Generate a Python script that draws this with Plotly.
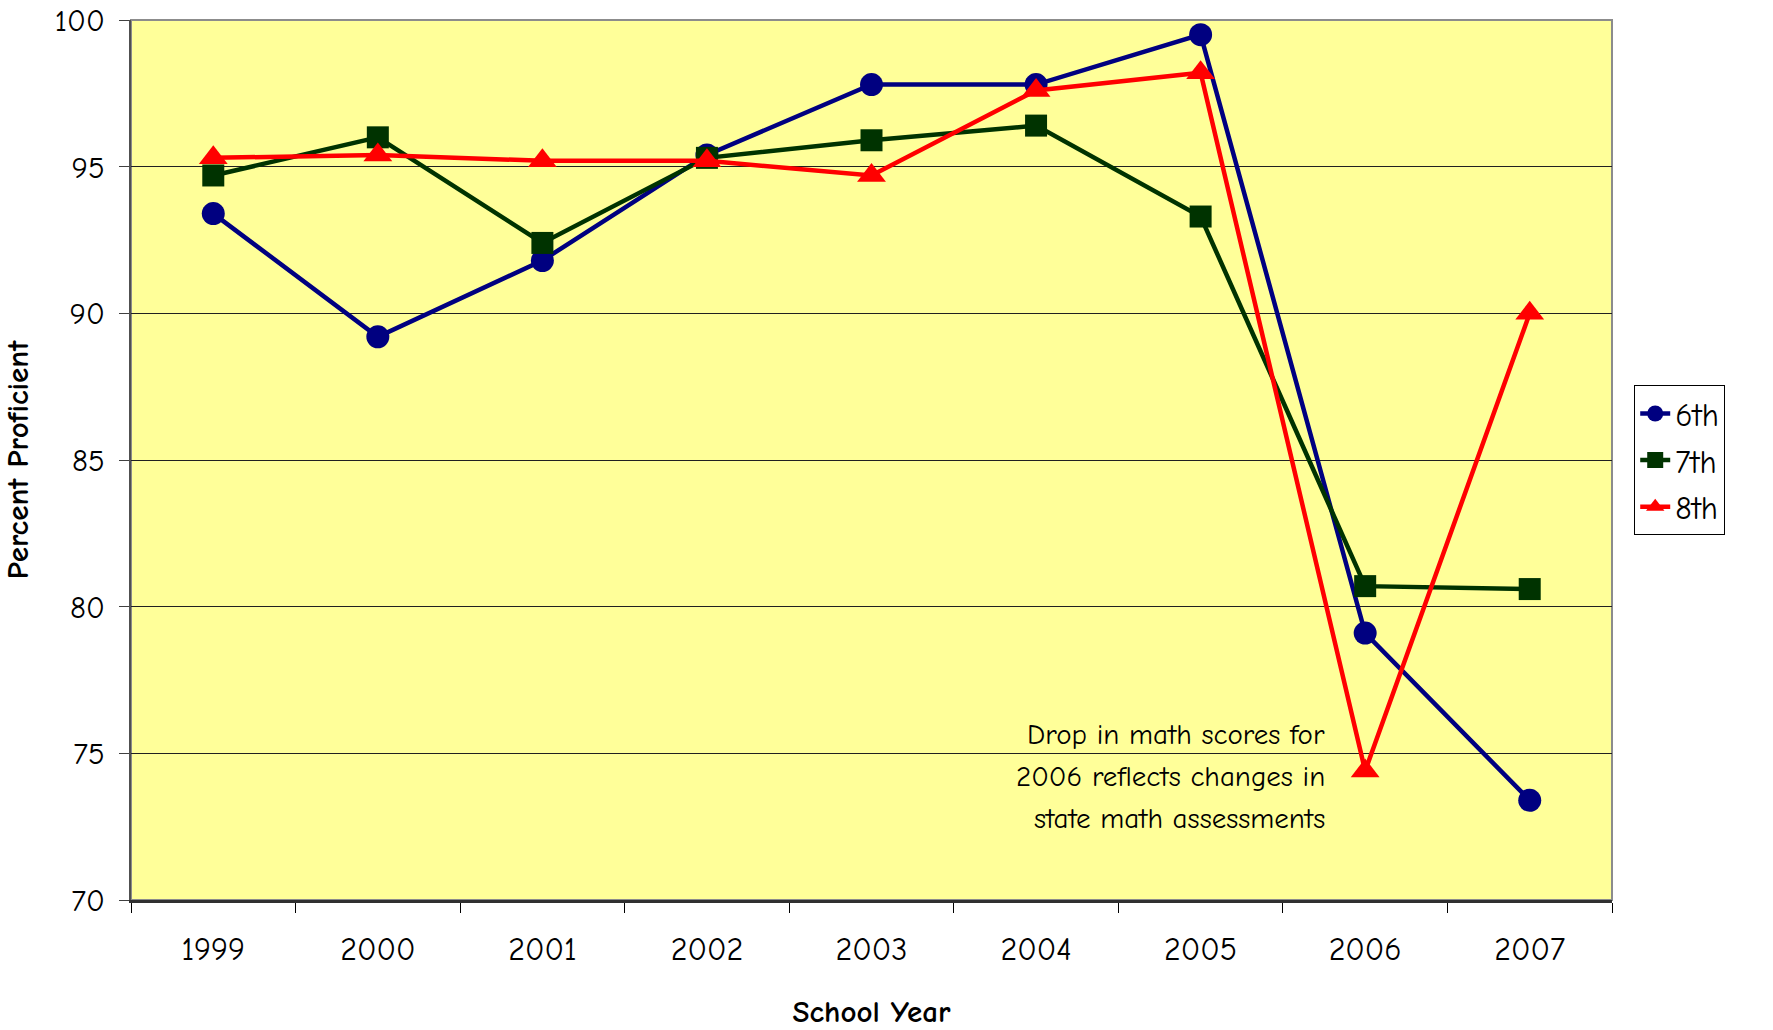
import plotly.graph_objects as go

years = ["1999", "2000", "2001", "2002", "2003", "2004", "2005", "2006", "2007"]
sixth = [93.4, 89.2, 91.8, 95.4, 97.8, 97.8, 99.5, 79.1, 73.4]
seventh = [94.7, 96.0, 92.4, 95.3, 95.9, 96.4, 93.3, 80.7, 80.6]
eighth = [95.3, 95.4, 95.2, 95.2, 94.7, 97.6, 98.2, 74.4, 90.0]
y_ticks = [70, 75, 80, 85, 90, 95, 100]
note_lines = ["Drop in math scores for", "2006 reflects changes in", "state math assessments"]

FONT = "Comic Sans MS, Comic Neue, Open Sans, sans-serif"

fig = go.Figure()
fig.add_trace(go.Scatter(x=years, y=sixth, name="6th", mode="lines+markers", legendgroup="g6",
                         line=dict(color="#000080", width=4.5),
                         marker=dict(symbol="circle", size=23, color="#000080")))
fig.add_trace(go.Scatter(x=years, y=seventh, name="7th", mode="lines+markers", legendgroup="g7",
                         line=dict(color="#003300", width=4.5),
                         marker=dict(symbol="square", size=22, color="#003300")))
fig.add_trace(go.Scatter(x=years, y=eighth, name="8th", mode="lines+markers", legendgroup="g8",
                         line=dict(color="#FF0000", width=4.5),
                         marker=dict(symbol="triangle-up", size=25, color="#FF0000")))

for i, line in enumerate(note_lines):
    fig.add_annotation(x=years.index("2006"), y=74.2, xref="x", yref="y", xanchor="right", xshift=-38,
                       yanchor="middle", yshift=(1 - i) * 42, showarrow=False, align="right",
                       text=line, font=dict(family=FONT, size=29, color="black"))

fig.add_shape(type="rect", xref="paper", yref="paper", x0=0, x1=1, y0=0, y1=1,
              line=dict(color="#8c8c8c", width=2), layer="below")

fig.update_layout(
    width=1773, height=1030,
    margin=dict(l=131, r=161, t=20, b=130, autoexpand=False),
    paper_bgcolor="white",
    plot_bgcolor="#FFFF99",
    font=dict(family=FONT, size=32, color="black"),
    showlegend=True,
    legend=dict(x=1.015, y=0.585, xanchor="left", yanchor="top",
                bgcolor="white", bordercolor="black", borderwidth=1,
                font=dict(family=FONT, size=32), tracegroupgap=2),
    xaxis=dict(type="category", categoryorder="array", categoryarray=years,
               range=[-0.5, 8.5], tickson="boundaries", ticks="outside", ticklen=10,
               tickcolor="black", showline=True, linecolor="#303030", linewidth=3,
               showgrid=False, zeroline=False, automargin=False,
               tickfont=dict(family=FONT, size=32), ticklabelstandoff=19,
               title=dict(text="<b>School Year</b>", font=dict(family=FONT, size=31), standoff=38)),
    yaxis=dict(range=[70, 100], tickvals=y_ticks, ticks="outside", ticklen=10,
               tickcolor="#404040", showline=True, linecolor="#505050", linewidth=2,
               showgrid=True, gridcolor="#202020", gridwidth=1, zeroline=False, automargin=False,
               tickfont=dict(family=FONT, size=31), ticklabelstandoff=8, ticklabeloverflow="allow",
               title=dict(text="<b>Percent Proficient</b>", font=dict(family=FONT, size=31), standoff=22)),
)

fig.write_html("out.html", config={"displayModeBar": False},
               post_script="document.body.style.margin='0';")
